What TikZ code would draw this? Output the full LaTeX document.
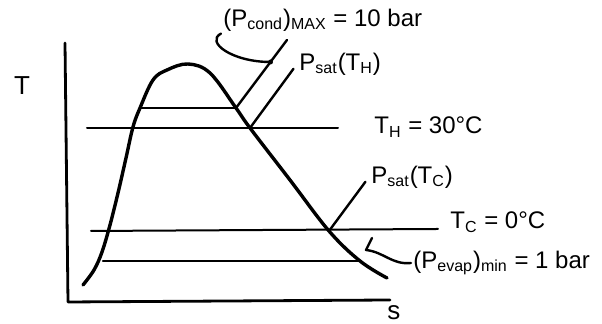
\documentclass[tikz,border=0pt]{standalone}
\usepackage{fontspec}
\setmainfont{Liberation Sans}
\usetikzlibrary{positioning}
\tikzset{
  dome/.style={line width=1.7pt},
  axis/.style={line width=1.4pt},
  iso/.style={line width=1pt},
  lead/.style={line width=1.2pt},
  lbl/.style={font=\fontsize{12}{14}\selectfont,inner sep=1pt,anchor=west},
}

\begin{document}
\begin{tikzpicture}[x=0.5pt,y=-0.5pt,line cap=round,line join=round]
\useasboundingbox (0,0) rectangle (602,324);
% axes
\coordinate (ytop) at (65,43);
\coordinate (orig) at (68,302);
\coordinate (xend) at (390,300);
\draw[axis] (ytop) -- (orig) -- (xend);
\node[lbl,anchor=center,font=\fontsize{13}{15}\selectfont] (tlab) at (22,86) {T};
\node[lbl,anchor=center,font=\fontsize{13}{15}\selectfont] (slab) at (394,313) {s};
% saturation dome
\coordinate (hL) at (140,108);
\coordinate (hR) at (236,108);
\coordinate (thX) at (250,128);
\coordinate (tcX) at (329,231);
\coordinate (evR) at (360,261);
\draw[dome] plot[smooth,tension=0.6] coordinates {(83,285) (94,270) (102,252) (110,225) (118,193) (126,158) (133,127) (hL) (153,80) (167,70) (188,64) (210,73) (hR) (thX) (290,180) (tcX) (evR) (387,278)};
% isotherms
\coordinate (thL) at (87,128);
\coordinate (thR) at (338,128);
\coordinate (tcL) at (91,231);
\coordinate (tcR) at (438,229);
\coordinate (evL) at (103,261);
\draw[lead] (hL) -- (hR);
\draw[iso] (thL) -- (thR);
\draw[iso] (tcL) -- (tcR);
\draw[lead] (evL) -- (evR);
% labels
\node[lbl] (thlab) at (372,127) {T\textsubscript{H} = 30°C};
\node[lbl] (tclab) at (448,222) {T\textsubscript{C} = 0°C};
\node[lbl] (psath) at (297,64) {P\textsubscript{sat}(T\textsubscript{H})};
\node[lbl] (psatc) at (369,177) {P\textsubscript{sat}(T\textsubscript{C})};
\node[lbl] (pcond) at (221,20) {(P\textsubscript{cond})\textsubscript{MAX} = 10 bar};
\node[lbl] (pevap) at (411,263) {(P\textsubscript{evap})\textsubscript{min} = 1 bar};
% leaders
\coordinate (condtop) at (287,40);
\coordinate (conddot) at (270.5,62);
\draw[lead] (hR) -- (condtop);
\fill (conddot) circle (2.5);
\draw[lead] (conddot) .. controls (232,62) and (205,42) .. (pcond.south west);
\draw[lead,shorten >=3pt] (thX) -- (psath.west);
\draw[lead,shorten >=3pt] (tcX) -- (psatc.west);
\coordinate (evtick) at (372,238);
\coordinate (evknee) at (366,250);
\draw[lead] (evtick) -- (evknee) .. controls (384,252) and (392,265) .. (pevap.west);
\end{tikzpicture}
\end{document}
